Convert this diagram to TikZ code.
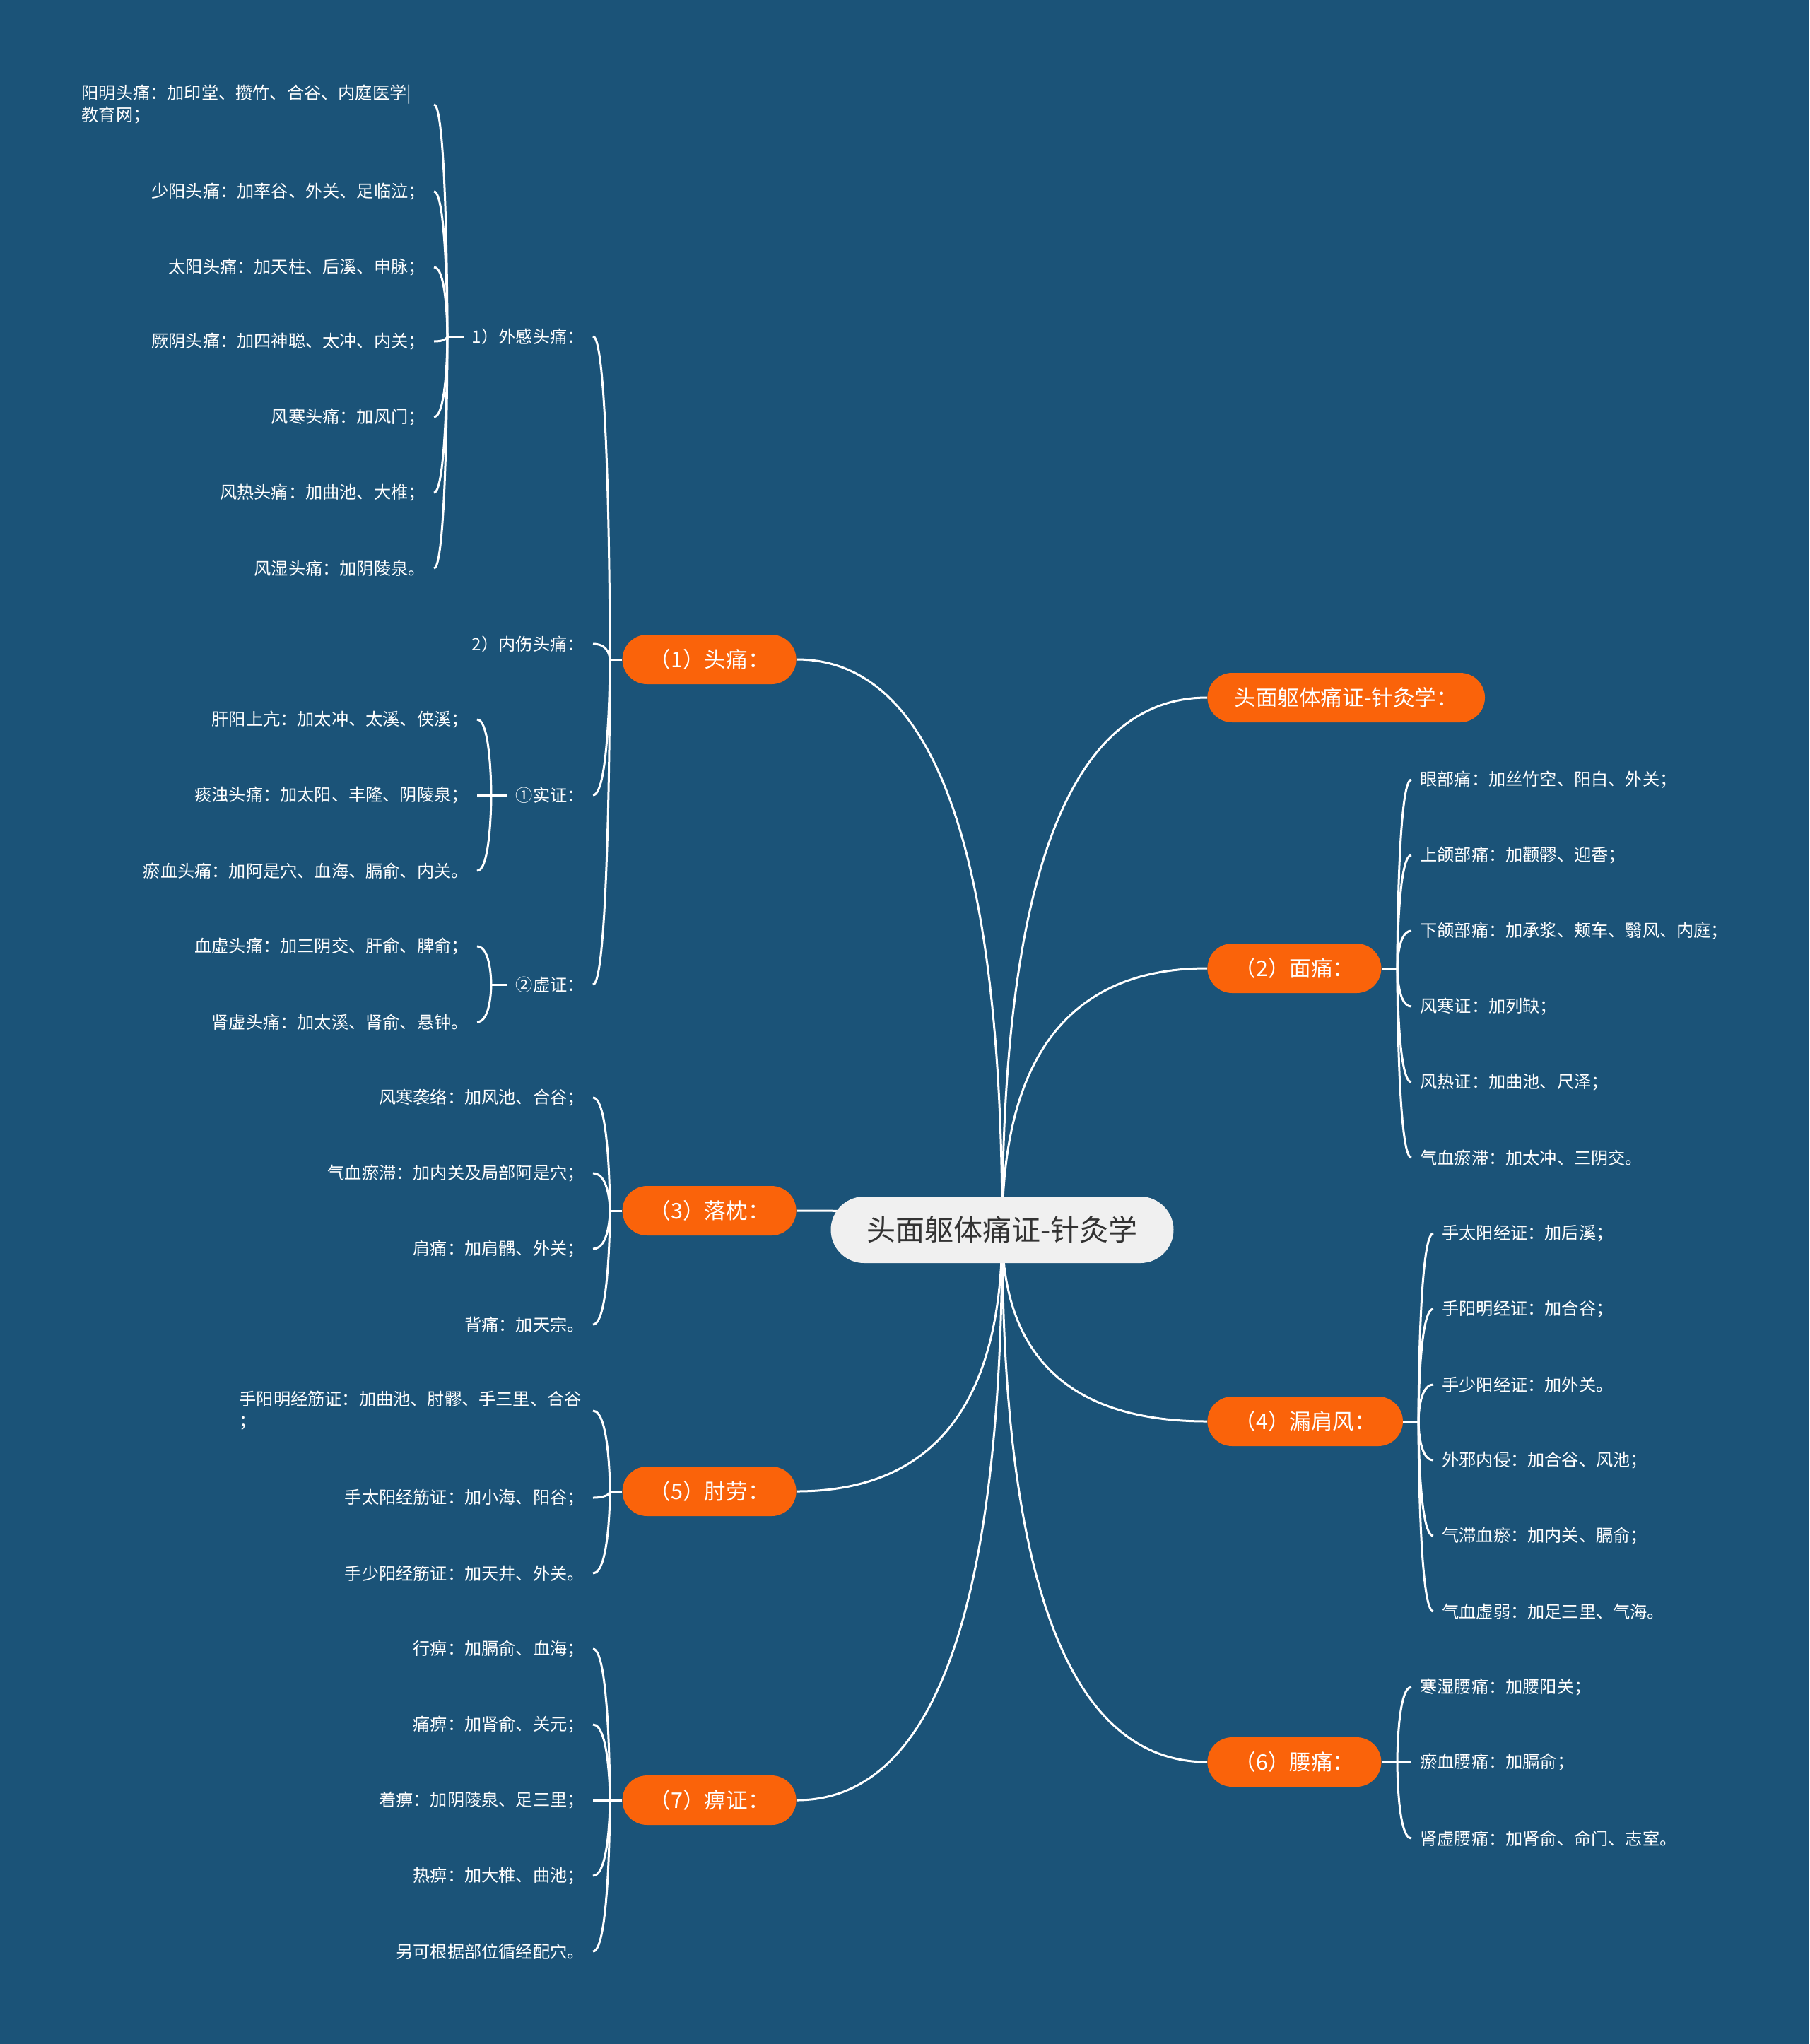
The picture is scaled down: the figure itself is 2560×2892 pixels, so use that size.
\documentclass[tikz,border=0pt]{standalone}
\usepackage{fontspec}
\setmainfont{Noto Sans CJK SC}
\usetikzlibrary{calc,backgrounds}
\definecolor{bg}{RGB}{27,83,120}
\definecolor{org}{RGB}{250,99,10}
\definecolor{ctr}{RGB}{240,240,240}
\definecolor{ctrtext}{RGB}{51,51,51}
\tikzset{
  conn/.style={white, line width=1.5pt},
  rootnode/.style={fill=ctr, text=ctrtext, rounded corners=23.5pt, minimum width=242.5pt, minimum height=47pt, inner sep=0pt, font=\fontsize{20.5}{24}\selectfont},
  topic/.style={fill=org, text=white, rounded corners=17.5pt, minimum height=35pt, inner xsep=19pt, inner ysep=0pt, font=\fontsize{15.3}{18}\selectfont},
  leaf/.style={text=white, inner xsep=6pt, inner ysep=2pt, font=\fontsize{12.1}{15.5}\selectfont},
  lleaf/.style={leaf, anchor=east},
  rleaf/.style={leaf, anchor=west},
}
\newcommand\mainlink[1]{\draw[conn] (root.center) .. controls ($(root.center)!0.6667!(root.center |- #1)$) and ($(#1)!0.6667!(root.center |- #1)$) .. (#1);}
\newcommand\lbr[2]{\draw[conn] (#1) .. controls (#1) and (#1 |- #2.east) .. (#2.east);}
\newcommand\rbr[2]{\draw[conn] (#1) .. controls (#1) and (#1 |- #2.west) .. (#2.west);}
\begin{document}
\begin{tikzpicture}[x=0.5pt, y=-0.5pt]
\useasboundingbox (0,0) rectangle (2560,2892);
% root and topics
\node[rootnode] (root) at (1418,1740) {头面躯体痛证-针灸学};
\node[topic, anchor=east] (t1) at (1127,933) {（1）头痛：};
\node[topic, anchor=east] (t3) at (1127,1713) {（3）落枕：};
\node[topic, anchor=east] (t5) at (1127,2110) {（5）肘劳：};
\node[topic, anchor=east] (t7) at (1127,2547) {（7）痹证：};
\node[topic, anchor=west] (r0) at (1708,987) {头面躯体痛证-针灸学：};
\node[topic, anchor=west] (t2) at (1708,1370) {（2）面痛：};
\node[topic, anchor=west] (t4) at (1708,2011) {（4）漏肩风：};
\node[topic, anchor=west] (t6) at (1708,2493) {（6）腰痛：};
% junctions
\coordinate (j1) at (863,933);
\coordinate (j3) at (863,1713);
\coordinate (j5) at (863,2110);
\coordinate (j7) at (863,2547);
\coordinate (j2) at (1977,1370);
\coordinate (j4) at (2007,2011);
\coordinate (j6) at (1977,2493);
% headache subtree
\node[lleaf] (a1) at (839,476) {1）外感头痛：};
\node[lleaf] (a2) at (839,911) {2）内伤头痛：};
\node[lleaf] (a3) at (839,1125) {①实证：};
\node[lleaf] (a4) at (839,1393) {②虚证：};
\coordinate (ja1) at (633,476);
\coordinate (ja3) at (695,1125);
\coordinate (ja4) at (695,1393);
\node[lleaf, text width=243pt, align=left] (b1) at (614,148) {阳明头痛：加印堂、攒竹、合谷、内庭医学|\\教育网；};
\node[lleaf] (b2) at (614,271) {少阳头痛：加率谷、外关、足临泣；};
\node[lleaf] (b3) at (614,378) {太阳头痛：加天柱、后溪、申脉；};
\node[lleaf] (b4) at (614,483) {厥阴头痛：加四神聪、太冲、内关；};
\node[lleaf] (b5) at (614,590) {风寒头痛：加风门；};
\node[lleaf] (b6) at (614,697) {风热头痛：加曲池、大椎；};
\node[lleaf] (b7) at (614,804) {风湿头痛：加阴陵泉。};
\node[lleaf] (c1) at (675,1018) {肝阳上亢：加太冲、太溪、侠溪；};
\node[lleaf] (c2) at (675,1125) {痰浊头痛：加太阳、丰隆、阴陵泉；};
\node[lleaf] (c3) at (675,1232) {瘀血头痛：加阿是穴、血海、膈俞、内关。};
\node[lleaf] (c4) at (675,1339) {血虚头痛：加三阴交、肝俞、脾俞；};
\node[lleaf] (c5) at (675,1446) {肾虚头痛：加太溪、肾俞、悬钟。};
% stiff neck
\node[lleaf] (d1) at (839,1553) {风寒袭络：加风池、合谷；};
\node[lleaf] (d2) at (839,1660) {气血瘀滞：加内关及局部阿是穴；};
\node[lleaf] (d3) at (839,1767) {肩痛：加肩髃、外关；};
\node[lleaf] (d4) at (839,1874) {背痛：加天宗。};
% elbow
\node[lleaf, text width=244pt, align=left] (e1) at (839,1996) {手阳明经筋证：加曲池、肘髎、手三里、合谷\\；};
\node[lleaf] (e2) at (839,2119) {手太阳经筋证：加小海、阳谷；};
\node[lleaf] (e3) at (839,2226) {手少阳经筋证：加天井、外关。};
% bi
\node[lleaf] (f1) at (839,2333) {行痹：加膈俞、血海；};
\node[lleaf] (f2) at (839,2440) {痛痹：加肾俞、关元；};
\node[lleaf] (f3) at (839,2547) {着痹：加阴陵泉、足三里；};
\node[lleaf] (f4) at (839,2654) {热痹：加大椎、曲池；};
\node[lleaf] (f5) at (839,2761) {另可根据部位循经配穴。};
% face
\node[rleaf] (g1) at (1997,1103) {眼部痛：加丝竹空、阳白、外关；};
\node[rleaf] (g2) at (1997,1210) {上颌部痛：加颧髎、迎香；};
\node[rleaf] (g3) at (1997,1317) {下颌部痛：加承浆、颊车、翳风、内庭；};
\node[rleaf] (g4) at (1997,1424) {风寒证：加列缺；};
\node[rleaf] (g5) at (1997,1531) {风热证：加曲池、尺泽；};
\node[rleaf] (g6) at (1997,1638) {气血瘀滞：加太冲、三阴交。};
% shoulder
\node[rleaf] (h1) at (2028,1745) {手太阳经证：加后溪；};
\node[rleaf] (h2) at (2028,1852) {手阳明经证：加合谷；};
\node[rleaf] (h3) at (2028,1959) {手少阳经证：加外关。};
\node[rleaf] (h4) at (2028,2066) {外邪内侵：加合谷、风池；};
\node[rleaf] (h5) at (2028,2173) {气滞血瘀：加内关、膈俞；};
\node[rleaf] (h6) at (2028,2280) {气血虚弱：加足三里、气海。};
% lumbar
\node[rleaf] (k1) at (1997,2387) {寒湿腰痛：加腰阳关；};
\node[rleaf] (k2) at (1997,2493) {瘀血腰痛：加膈俞；};
\node[rleaf] (k3) at (1997,2601) {肾虚腰痛：加肾俞、命门、志室。};
\begin{scope}[on background layer]
\fill[bg] (0,0) rectangle (2560,2892);
\mainlink{t1.east}
\mainlink{t3.east}
\mainlink{t5.east}
\mainlink{t7.east}
\mainlink{r0.west}
\mainlink{t2.west}
\mainlink{t4.west}
\mainlink{t6.west}
\draw[conn] (t1.west) -- (j1);
\draw[conn] (t3.west) -- (j3);
\draw[conn] (t5.west) -- (j5);
\draw[conn] (t7.west) -- (j7);
\draw[conn] (t2.east) -- (j2);
\draw[conn] (t4.east) -- (j4);
\draw[conn] (t6.east) -- (j6);
\draw[conn] (a1.west) -- (ja1);
\draw[conn] (a3.west) -- (ja3);
\draw[conn] (a4.west) -- (ja4);
\lbr{j1}{a1}\lbr{j1}{a2}\lbr{j1}{a3}\lbr{j1}{a4}
\lbr{ja1}{b1}\lbr{ja1}{b2}\lbr{ja1}{b3}\lbr{ja1}{b4}\lbr{ja1}{b5}\lbr{ja1}{b6}\lbr{ja1}{b7}
\lbr{ja3}{c1}\lbr{ja3}{c2}\lbr{ja3}{c3}
\lbr{ja4}{c4}\lbr{ja4}{c5}
\lbr{j3}{d1}\lbr{j3}{d2}\lbr{j3}{d3}\lbr{j3}{d4}
\lbr{j5}{e1}\lbr{j5}{e2}\lbr{j5}{e3}
\lbr{j7}{f1}\lbr{j7}{f2}\lbr{j7}{f3}\lbr{j7}{f4}\lbr{j7}{f5}
\rbr{j2}{g1}\rbr{j2}{g2}\rbr{j2}{g3}\rbr{j2}{g4}\rbr{j2}{g5}\rbr{j2}{g6}
\rbr{j4}{h1}\rbr{j4}{h2}\rbr{j4}{h3}\rbr{j4}{h4}\rbr{j4}{h5}\rbr{j4}{h6}
\rbr{j6}{k1}\rbr{j6}{k2}\rbr{j6}{k3}
\end{scope}
\end{tikzpicture}
\end{document}
